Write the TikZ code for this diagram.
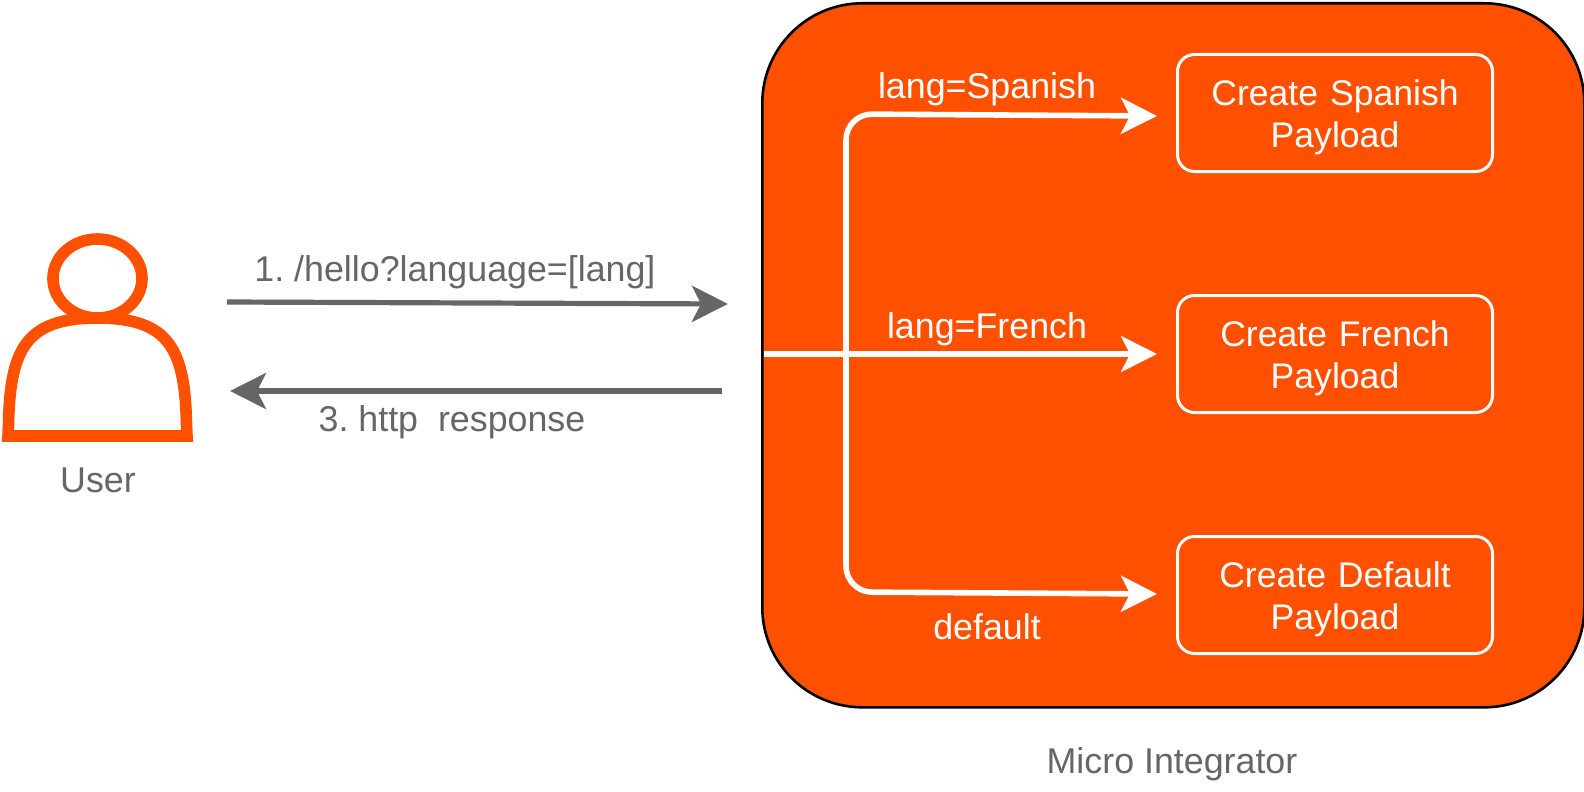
\documentclass[tikz,border=0pt]{standalone}
\usepackage{fontspec}
\setmainfont{Liberation Sans}
\usetikzlibrary{arrows.meta, positioning, calc}
\definecolor{miorange}{HTML}{FF5000}
\definecolor{txtgray}{HTML}{666666}
\tikzset{payload/.style={rectangle,draw=white,line width=1.5pt,fill=miorange,rounded corners=8.5pt,text=white,align=center,font=\fontsize{17.8pt}{21pt}\selectfont,minimum width=157.5pt,minimum height=58.5pt,text width=150pt,execute at begin node={\rule{0pt}{17.5pt}}},
         lbl/.style={text=white,font=\fontsize{17.9pt}{21pt}\selectfont,inner sep=0pt},
         graylbl/.style={text=txtgray,font=\fontsize{17.9pt}{21pt}\selectfont,inner sep=0pt},
         whitearrow/.style={draw=white,line width=2.8pt,-{Stealth[length=18pt,width=18pt,inset=4.5pt]}},
         grayarrow/.style={draw=txtgray,line width=2.6pt,-{Stealth[length=18pt,width=18pt,inset=4.5pt]}}}
\begin{document}
\frenchspacing
\begin{tikzpicture}[x=0.5pt,y=-0.5pt]
    \useasboundingbox (0,0) rectangle (1584,792);
    % container
    \node (mi) [rectangle,draw=black,line width=1.3pt,fill=miorange,rounded corners=50pt,minimum width=411pt,minimum height=352pt,anchor=north west,inner sep=0pt] at (761,2) {};
    \node (milbl) [graylbl] at (1172,764) {Micro Integrator};
    % payload boxes
    \node (es) [payload] at (1335,113) {Create Spanish\\Payload};
    \node (fr) [payload] at (1335,354) {Create French\\Payload};
    \node (df) [payload] at (1335,595) {Create Default\\Payload};
    % user
    \draw[miorange,line width=5.8pt,fill=white] (8,436) -- (8.5,425) .. controls (10,350) and (25,318) .. (97.5,318) .. controls (170,318) and (185,350) .. (186.5,425) -- (187,436) -- cycle;
    \draw[miorange,line width=5.8pt,fill=white] (97.5,278.5) ellipse (44.5 and 39.5);
    \node (user) [graylbl] at (98,480) {User};
    % connectors
    \coordinate (ustart) at (227,302);
    \coordinate (uend) at (728,304);
    \coordinate (rstart) at (722,391);
    \coordinate (rend) at (230,391);
    \draw[grayarrow] (ustart) -- (uend);
    \draw[grayarrow] (rstart) -- (rend);
    \coordinate (split) at (764,354);
    \draw[whitearrow] (split) -- (1157,354);
    \draw[whitearrow,rounded corners=13pt] (846,354) -- (846,114) -- (1157,116);
    \draw[whitearrow,rounded corners=13pt] (846,354) -- (846,592) -- (1157,594);
    \node (q) [graylbl] at (455,272) {1. /hello?language=[lang]};
    \node (r) [graylbl] at (452,422) {3. http~~response};
    \node (a) [lbl] at (987,89) {lang=Spanish};
    \node (b) [lbl] at (987,329) {lang=French};
    \node (c) [lbl] at (987,627) {default};
\end{tikzpicture}
\end{document}
